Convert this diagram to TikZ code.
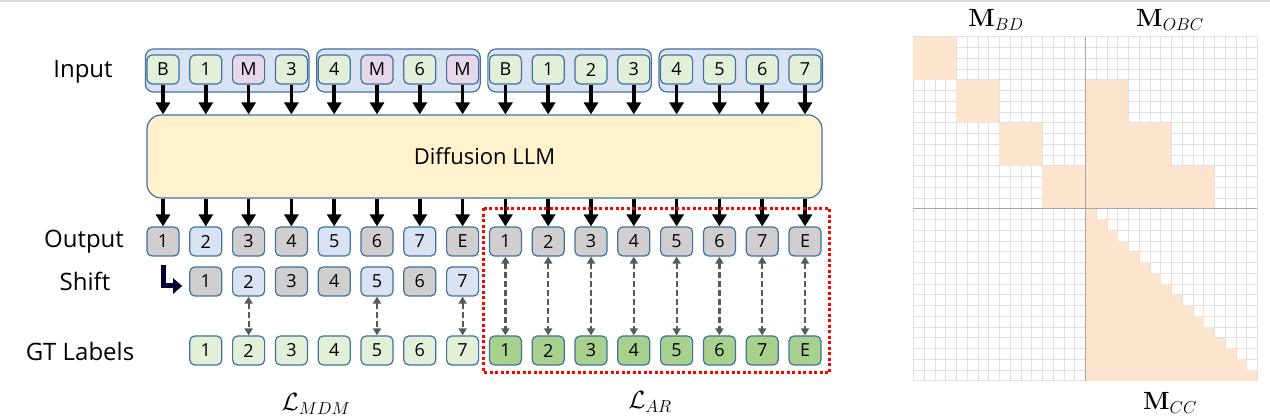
\documentclass[tikz,border=0pt]{standalone}
\usepackage[no-math]{fontspec}
\setmainfont{Open Sans}
\usepackage{amsmath,amssymb}
\usepackage{xcolor}
\usepackage{tikz}
\usetikzlibrary{arrows.meta}
\usetikzlibrary{calc}
\definecolor{tokline}{HTML}{41719C}
\definecolor{tokgreen}{HTML}{E2F0D9}
\definecolor{tokpink}{HTML}{E8D6EA}
\definecolor{tokgray}{HTML}{D0CECE}
\definecolor{tokblue}{HTML}{DAE3F3}
\definecolor{tokdark}{HTML}{A9D18E}
\definecolor{llmfill}{HTML}{FFF2CC}
\definecolor{maskfill}{HTML}{FCE4CE}
\tikzset{
  tok/.style={rectangle, rounded corners=5pt, draw=tokline, line width=1.2pt,
              fill=#1, minimum width=32pt, minimum height=29pt, inner sep=0pt,
              font=\fontsize{18}{20}\selectfont},
  tok/.default=tokgreen,
  grpbox/.style={rectangle, rounded corners=8pt, draw=tokline, line width=1.2pt,
              fill=tokblue, minimum width=163.5pt, minimum height=43pt, inner sep=0pt},
  rowlab/.style={font=\fontsize{24}{28}\selectfont},
  losslab/.style={font=\fontsize{23}{27}\selectfont},
  masklab/.style={font=\fontsize{25}{29}\selectfont},
  flow/.style={line width=3.5pt, -{Triangle[length=12pt,width=14pt]}},
  match/.style={draw=black!65, line width=2.2pt, dash pattern=on 6pt off 3pt,
              {Triangle[length=7pt,width=8pt]}-{Triangle[length=7pt,width=8pt]}},
  shiftarr/.style={draw=black!80!blue, line width=5pt,
              -{Triangle[length=9pt,width=15pt]}},
  arbox/.style={draw=red, line width=3pt, dash pattern=on 3pt off 2.5pt}}

\begin{document}
\begin{tikzpicture}[x=1pt, y=-1pt]
  \useasboundingbox (0,0) rectangle (1270,419);
  \fill[black!15] (0,0) rectangle (1270,2.5);
  % row labels
  \node[rowlab] (labin) at (83,72) {Input};
  \node[rowlab] (labout) at (84,242) {Output};
  \node[rowlab] (labsh) at (85,281) {Shift};
  \node[rowlab] (labgt) at (80,352) {GT Labels};
  % input: four blocks of four tokens
  \foreach \g in {0,...,3}{
    \node[grpbox] (grp\g) at ({163+42.8*(4*\g+1.5)},70.5) {};}
  \foreach \t/\c [count=\i] in {B/tokgreen, 1/tokgreen, M/tokpink, 3/tokgreen,
      4/tokgreen, M/tokpink, 6/tokgreen, M/tokpink, B/tokgreen, 1/tokgreen,
      2/tokgreen, 3/tokgreen, 4/tokgreen, 5/tokgreen, 6/tokgreen, 7/tokgreen}{
    \node[tok=\c] (in\i) at ({163+42.8*(\i-1)},69.5) {\t};}
  \node[rectangle, rounded corners=14pt, draw=tokline, line width=1.2pt, fill=llmfill,
        minimum width=675pt, minimum height=83pt, font=\fontsize{22}{26}\selectfont]
        (llm) at (484.5,156.5) {Diffusion LLM};
  \foreach \i in {1,...,16}{
    \draw[flow] (in\i.south) -- (in\i |- llm.north);}
  % output tokens
  \foreach \t/\c [count=\i] in {1/tokgray, 2/tokblue, 3/tokgray, 4/tokgray,
      5/tokblue, 6/tokgray, 7/tokblue, E/tokgray, 1/tokgray, 2/tokgray,
      3/tokgray, 4/tokgray, 5/tokgray, 6/tokgray, 7/tokgray, E/tokgray}{
    \node[tok=\c] (out\i) at ({163+42.8*(\i-1)},241.5) {\t};
    \draw[flow] (out\i |- llm.south) -- (out\i.north);}
  % shifted outputs, one place to the right
  \foreach \c [count=\k] in {tokgray, tokblue, tokgray, tokgray, tokblue, tokgray, tokblue}{
    \pgfmathtruncatemacro\i{\k+1}
    \node[tok=\c] (sh\i) at ({163+42.8*\k},281.5) {\k};}
  \draw[shiftarr] ([yshift=-8pt]out1.south) |- ([xshift=-7pt,yshift=-4.5pt]sh2.west);
  % ground truth labels
  \foreach \t/\c [count=\k] in {1/tokgreen, 2/tokgreen, 3/tokgreen, 4/tokgreen,
      5/tokgreen, 6/tokgreen, 7/tokgreen, 1/tokdark, 2/tokdark, 3/tokdark,
      4/tokdark, 5/tokdark, 6/tokdark, 7/tokdark, E/tokdark}{
    \pgfmathtruncatemacro\i{\k+1}
    \node[tok=\c] (gt\i) at ({163+42.8*\k},350.5) {\t};}
  \foreach \i in {3,6,8}{\draw[match] (sh\i) -- (gt\i);}
  \foreach \i in {9,...,16}{\draw[match] (out\i) -- (gt\i);}
  \draw[arbox] ([xshift=-5.5pt,yshift=18pt]out9.north west)
    rectangle ([xshift=8pt,yshift=-7pt]gt16.south east);
  \node[losslab] (lmdm) at (316,404) {$\mathcal{L}_{MDM}$};
  \node[losslab] (lar) at (650,402) {$\mathcal{L}_{AR}$};
  % attention mask, 32 x 32
  \begin{scope}[shift={(913.3pt,-36.7pt)}, x=10.75pt, y=-10.75pt]
    \foreach \k in {0,...,32}{
      \draw[black!12, line width=0.6pt] (\k,0) -- (\k,32) (0,\k) -- (32,\k);}
    \foreach \b in {0,...,3}{\fill[maskfill] (4*\b,4*\b) rectangle (4*\b+4,4*\b+4);}
    \foreach \b in {1,...,3}{\fill[maskfill] (16,4*\b) rectangle (16+4*\b,4*\b+4);}
    \foreach \r in {0,...,15}{\fill[maskfill] (16,16+\r) rectangle (17+\r,17+\r);}
    \draw[black!35, line width=1.4pt] (16,0) -- (16,32) (0,16) -- (32,16);
  \end{scope}
  \node[masklab] (mbd) at (996,20) {$\mathbf{M}_{BD}$};
  \node[masklab] (mobc) at (1170,20) {$\mathbf{M}_{OBC}$};
  \node[masklab] (mcc) at (1170,403) {$\mathbf{M}_{CC}$};
\end{tikzpicture}
\end{document}
